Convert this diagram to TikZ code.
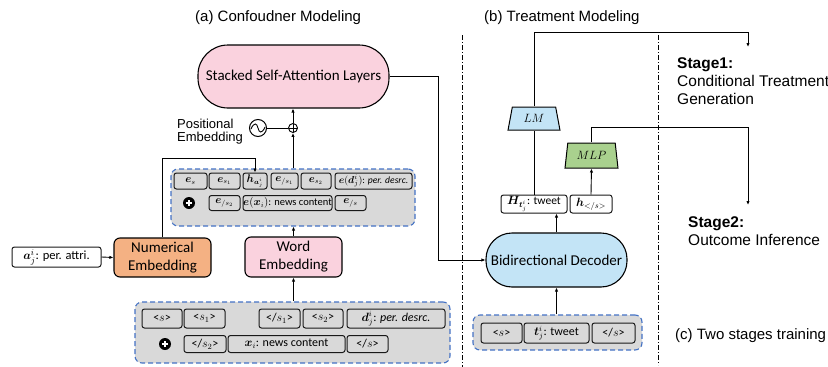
\documentclass[tikz,border=0pt]{standalone}
\usepackage{fontspec}
\usepackage{amsmath}
\usepackage{bm}
\setmainfont{Carlito}
\newfontfamily\arialf{Liberation Sans}
\usetikzlibrary{arrows.meta,shapes.geometric,calc}
\definecolor{pinkfill}{HTML}{FAD2DE}
\definecolor{orangefill}{HTML}{F4B183}
\definecolor{bluefill}{HTML}{C3E4F6}
\definecolor{greenfill}{HTML}{A9D18E}
\definecolor{grayfill}{HTML}{D9D9D9}
\definecolor{dashblue}{HTML}{4472C4}
\newcommand{\fsz}[2]{\fontsize{#1}{#2}\selectfont}
\tikzset{
  block/.style={draw=black, line width=1.1pt, align=center, inner sep=0pt},
  stadium/.style={block, font=\fsz{15}{18}},
  emblock/.style={block, rounded corners=6pt, font=\fsz{15}{18}},
  container/.style={draw=dashblue, dash pattern=on 5pt off 3pt, line width=1.1pt,
    fill=grayfill, rounded corners=7pt, inner sep=0pt},
  tok/.style={draw=black!90, line width=1pt, fill=grayfill, rounded corners=2.5pt,
    inner sep=0pt},
  midtok/.style={tok, minimum height=16pt, font=\fsz{10.5}{12}},
  midtokb/.style={tok, minimum height=15pt, font=\fsz{10.5}{12}},
  lowtok/.style={tok, minimum height=19pt, font=\fsz{12}{14}},
  lowtokb/.style={tok, minimum height=17pt, font=\fsz{12}{14}},
  whitetok/.style={tok, fill=white},
  plusdot/.style={circle, fill=black, minimum size=12pt, inner sep=0pt,
    path picture={
      \draw[white, line width=1.8pt]
        ([xshift=-3.2pt]path picture bounding box.center) -- ([xshift=3.2pt]path picture bounding box.center)
        ([yshift=-3.2pt]path picture bounding box.center) -- ([yshift=3.2pt]path picture bounding box.center);
    }},
  trap/.style={trapezium, draw=black, line width=1pt, inner sep=0pt,
    trapezium stretches=true, font=\fsz{12}{14}},
  line/.style={draw=black, line width=0.9pt},
  arr/.style={line, -{Latex[length=4pt,width=3.4pt]}},
  divider/.style={draw=black, line width=0.8pt, dash pattern=on 5pt off 2pt on 1pt off 2pt},
  caption/.style={font=\arialf\fsz{15}{18}, inner sep=0pt},
  stagetxt/.style={font=\arialf\fsz{15.5}{18}, inner sep=0pt, anchor=base west},
}
\begin{document}
\begin{tikzpicture}[x=1pt,y=-1pt]
\useasboundingbox (0,0) rectangle (828,367);

% section captions
\node[caption, anchor=base west] (capa) at (195,21) {(a) Confoudner Modeling};
\node[caption, anchor=base west] (capb) at (484,21) {(b) Treatment Modeling};
\node[caption, anchor=base west] (capc) at (675,339) {(c) Two stages training};

% dividers
\draw[divider] (462.5,35) -- (462.5,367);
\draw[divider] (658,35) -- (658,365);

% stage labels
\node[stagetxt] (st1a) at (677,68) {\bfseries Stage1:};
\node[stagetxt] (st1b) at (677,86) {Conditional Treatment};
\node[stagetxt] (st1c) at (677,104) {Generation};
\node[stagetxt] (st2a) at (688,227) {\bfseries Stage2:};
\node[stagetxt] (st2b) at (688,245) {Outcome Inference};

% ---------- confounder modeling ----------
\node[stadium, fill=pinkfill, rounded corners=30pt, minimum width=191pt, minimum height=63pt]
  (sa) at (293.5,76.5) {Stacked Self-Attention Layers};

\node[circle, draw=black, line width=0.9pt, minimum size=9pt, inner sep=0pt,
  path picture={\draw[line width=0.8pt]
    (path picture bounding box.north) -- (path picture bounding box.south)
    (path picture bounding box.west) -- (path picture bounding box.east);}]
  (op) at (293,128) {};
\node[circle, draw=black, line width=1pt, minimum size=17pt, inner sep=0pt] (pe) at (258,128) {};
\draw[line width=0.9pt] ($(pe)+(-7,1)$) .. controls ($(pe)+(-4,-6)$) and ($(pe)+(-1,-5)$) .. (pe.center)
  .. controls ($(pe)+(1,5)$) and ($(pe)+(4,6)$) .. ($(pe)+(7,-1)$);
\node[font=\arialf\fsz{13}{13}, inner sep=0pt, anchor=base west] (pel1) at (177,128) {Positional};
\node[font=\arialf\fsz{13}{13}, inner sep=0pt, anchor=base west] (pel2) at (177,141) {Embedding};

% embedding sequence
\node[container, minimum width=244pt, minimum height=57pt] (emb) at (293,197.5) {};
\node[midtok, minimum width=33pt] (es) at (190.5,181) {$\bm{e}_s$};
\node[midtok, minimum width=31pt] (es1) at (224.5,181) {$\bm{e}_{s_1}$};
\node[midtok, minimum width=24pt] (hbox) at (255,181) {$\bm{h}_{\bm{a}_j^i}$};
\node[midtok, minimum width=27pt] (es1e) at (284.5,181) {$\bm{e}_{/s_1}$};
\node[midtok, minimum width=30pt] (es2) at (316,181) {$\bm{e}_{s_2}$};
\node[midtok, minimum width=77pt, font=\fsz{9.6}{12}] (ed) at (373.5,181) {$\bm{e}(\bm{d}_j^i)$: \textit{per. desrc.}};
\node[plusdot] (pl1) at (189,203) {};
\node[midtokb, minimum width=31pt] (es2e) at (224.5,203) {$\bm{e}_{/s_2}$};
\node[midtokb, minimum width=89pt] (ex) at (287.5,203) {$\bm{e}(\bm{x}_i)$: news content};
\node[midtokb, minimum width=31pt] (ee) at (350.5,203) {$\bm{e}_{/s}$};

% embedding layers
\node[whitetok, minimum width=89pt, minimum height=20pt, font=\fsz{12.5}{14}] (ap) at (56.5,257)
  {$\bm{a}_j^i$: per. attri.};
\node[emblock, fill=orangefill, minimum width=97pt, minimum height=39pt] (ne) at (162.5,257.5)
  {Numerical\\Embedding};
\node[emblock, fill=pinkfill, minimum width=97pt, minimum height=40pt] (we) at (293.5,257)
  {Word\\Embedding};

% token sequence
\node[container, minimum width=315pt, minimum height=61pt] (seq) at (292.5,332.5) {};
\node[lowtok, minimum width=40pt] (ts0) at (162,318.5) {<$s$>};
\node[lowtok, minimum width=41pt] (ts1) at (204.5,318.5) {<$s_1$>};
\node[lowtok, minimum width=41pt] (ts1e) at (279.5,318.5) {</$s_1$>};
\node[lowtok, minimum width=40pt] (ts2) at (323,318.5) {<$s_2$>};
\node[lowtok, minimum width=98pt] (td) at (396,318.5) {$\bm{d}_j^i$: \textit{per. desrc.}};
\node[plusdot] (pl2) at (165,344) {};
\node[lowtokb, minimum width=42pt] (ts2e) at (205,344) {</$s_2$>};
\node[lowtokb, minimum width=117pt] (tx) at (286.5,344) {$\bm{x}_i$: news content};
\node[lowtokb, minimum width=41pt] (tse) at (367.5,344) {</$s$>};

% ---------- treatment modeling ----------
\node[stadium, fill=bluefill, rounded corners=26pt, minimum width=141pt, minimum height=54pt]
  (dec) at (556.5,260) {Bidirectional Decoder};

\node[container, minimum width=169pt, minimum height=35pt] (tw) at (557.5,332.5) {};
\node[lowtok, minimum width=41pt, minimum height=20pt] (tw0) at (501.5,333) {<$s$>};
\node[lowtok, minimum width=65pt, minimum height=20pt] (tw1) at (556.5,333) {$\bm{t}_j^i$: tweet};
\node[lowtok, minimum width=43pt, minimum height=20pt] (tw2) at (613.5,333) {</$s$>};

\node[whitetok, minimum width=66pt, minimum height=18pt, font=\fsz{11.5}{13}] (hb) at (534,204)
  {$\bm{H}_{\bm{t}_j^i}$: tweet};
\node[whitetok, minimum width=42pt, minimum height=18pt, font=\fsz{12}{13}] (hs) at (591,204)
  {$\bm{h}_{</s>}$};

\node[trap, fill=bluefill, trapezium angle=76, minimum width=52pt, minimum height=23pt]
  (lm) at (534,118.5) {$LM$};
\node[trap, fill=greenfill, trapezium angle=78, minimum width=53pt, minimum height=25pt]
  (mlp) at (591.5,155.5) {$MLP$};

\coordinate (s1end) at (748,47);
\coordinate (s2end) at (748,205);

% ---------- connectors ----------
\draw[arr] (ap.east) -- (ne.west);
\draw[arr] (ne.north) -- ++(0,-79) -| (hbox.north);
\draw[arr] (we.south |- seq.north) -- (we.south);
\draw[arr] (we.north) -- (we.north |- emb.south);
\draw[arr] (op.south |- emb.north) -- (op.south);
\draw[arr] (op.north) -- (op.north |- sa.south);
\draw[line] (pe.east) -- (op.west);
\draw[arr] (sa.east) -- ++(49,0) |- (dec.west);
\draw[arr] (dec.south |- tw.north) -- (dec.south);
\draw[arr] (dec.north) -- (dec.north |- hb.south);
\draw[line] (lm.south |- hb.north) -- (lm.south);
\draw[arr] (lm.north) -- ++(0,-74) -| (s1end);
\draw[arr] (hs.north) -- (mlp.south);
\draw[arr] (mlp.north) -- ++(0,-15) -| (s2end);
\end{tikzpicture}
\end{document}
